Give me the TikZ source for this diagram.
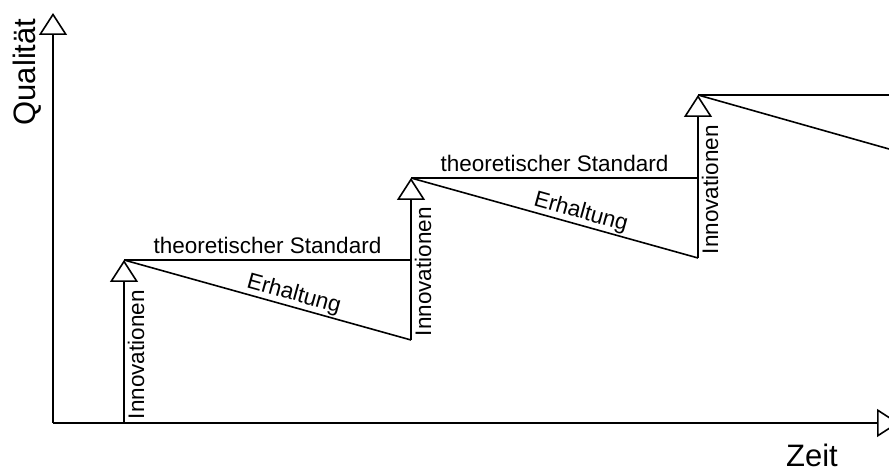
\documentclass[tikz,border=0pt]{standalone}
\usepackage{fontspec}
\setmainfont{Liberation Sans}
\usetikzlibrary{arrows.meta}
\begin{document}
\begin{tikzpicture}[x=1pt,y=1pt,
  line width=1.6pt,
  openarrow/.style={-{Triangle[open,length=22pt,width=28pt]}},
  steplabel/.style={font=\fontsize{22.5}{27}\selectfont, inner sep=3pt},
  axislabel/.style={font=\fontsize{31}{36}\selectfont, inner sep=0pt}]
  \useasboundingbox (0,0) rectangle (889,470);
  \clip (0,0) rectangle (889,470);

  % axes
  \coordinate (O) at (53,47);
  \coordinate (ytip) at (53,457);
  \coordinate (xtip) at (899,47);
  \draw[openarrow] (O) -- (ytip);
  \draw[openarrow] (O) -- (xtip);
  \node[axislabel, anchor=base] (zeit) at (812,3) {Zeit};
  \node[axislabel, anchor=base, rotate=90] (qual) at (35,398) {Qualität};

  % step corners: b = foot of innovation, t = top, h = end of standard line
  \coordinate (b1) at (124,47);
  \coordinate (t1) at (124,210);
  \coordinate (h1) at (411,210);
  \coordinate (b2) at (411,130);
  \coordinate (t2) at (411,292);
  \coordinate (h2) at (698,292);
  \coordinate (b3) at (698,212);
  \coordinate (t3) at (698,375);
  \coordinate (h3) at (889,375);
  \coordinate (e3) at (889,321);

  % innovations
  \draw[openarrow] (b1) -- (t1);
  \draw[openarrow] (b2) -- (t2);
  \draw[openarrow] (b3) -- (t3);
  \node[steplabel, rotate=90, anchor=north west] (inn1) at (b1) {Innovationen};
  \node[steplabel, rotate=90, anchor=north west] (inn2) at (b2) {Innovationen};
  \node[steplabel, rotate=90, anchor=north west] (inn3) at (b3) {Innovationen};

  % theoretical standard
  \draw (t1) -- node[steplabel, anchor=base, yshift=6pt] (std1) {theoretischer Standard} (h1);
  \draw (t2) -- node[steplabel, anchor=base, yshift=6pt] (std2) {theoretischer Standard} (h2);
  \draw (t3) -- (h3);

  % maintenance
  \draw (t1) -- node[steplabel, sloped, anchor=south, inner sep=1pt, pos=0.58] (erh1) {Erhaltung} (b2);
  \draw (t2) -- node[steplabel, sloped, anchor=south, inner sep=1pt, pos=0.58] (erh2) {Erhaltung} (b3);
  \draw (t3) -- (e3);
\end{tikzpicture}
\end{document}
